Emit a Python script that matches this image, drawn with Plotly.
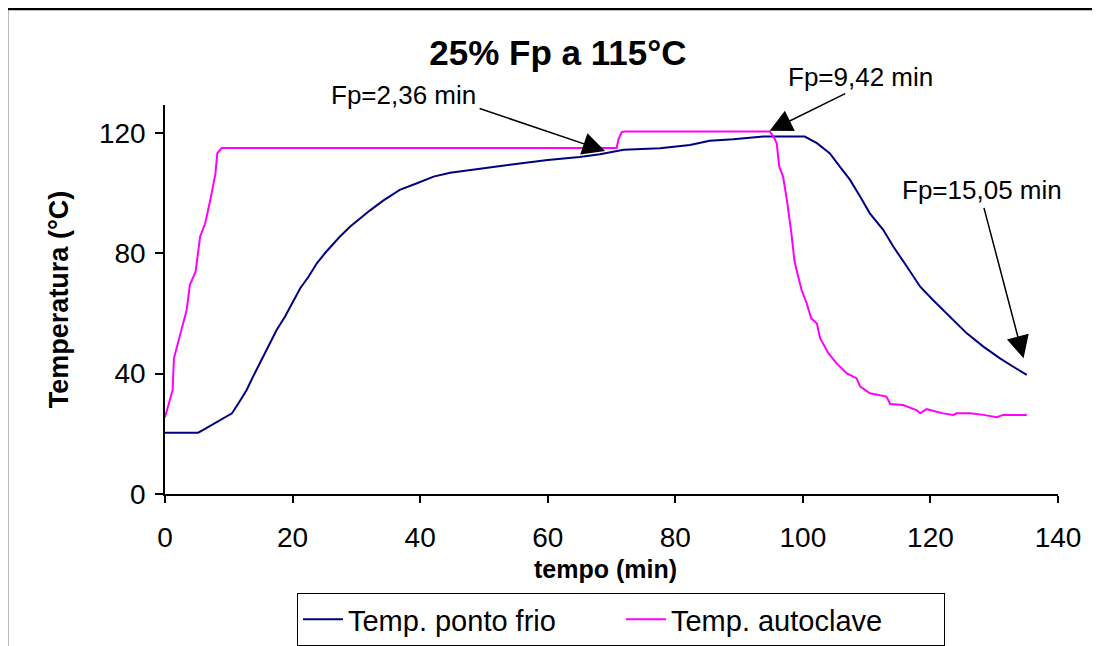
import plotly.graph_objects as go

# tempo (min) e temperatura (°C)
t_frio = [0, 5.2, 6.0, 7.3, 8.9, 10.5, 11.5, 12.8, 13.8, 14.9, 16.2, 17.5, 18.8, 20.1, 21.2,
          22.5, 23.8, 25.3, 27.4, 29.0, 30.6, 32.1, 34.2, 36.8, 39.5, 42.1, 44.7, 50, 55, 60,
          65, 68.2, 71.9, 77.6, 82.3, 85.4, 89.1, 93.8, 100.3, 102.2, 104.2, 105.8, 107.4, 109.0, 110.5,
          112.6, 114.2, 116.3, 118.4, 120.4, 123.1, 125.7, 128.3, 130.9, 133.0, 135.1]
temp_frio = [20.4, 20.4, 21.3, 22.9, 24.6, 26.8, 30.1, 34.6, 39.0, 43.5, 49.0, 54.5, 58.9, 63.9, 68.4,
             72.2, 76.7, 80.6, 85.5, 88.8, 91.6, 94.2, 97.5, 101.1, 103.3, 105.5, 106.8, 108.4, 109.7, 111.0,
             112.0, 112.9, 114.4, 114.9, 116.0, 117.4, 117.9, 118.8, 118.8, 116.6, 113.3, 108.8, 104.4, 98.8, 93.3,
             87.8, 82.2, 75.6, 68.9, 64.5, 58.9, 53.4, 49.0, 45.1, 42.3, 39.6]

t_auto = [0, 1.2, 1.4, 2.6, 3.4, 3.9, 4.8, 5.5, 6.3, 7.1, 7.9, 8.2, 8.9, 70.8, 71.1,
          71.6, 72.1, 94.8, 95.4, 95.9, 96.3, 96.9, 97.5, 98.2, 98.7, 99.8, 100.6, 101.3, 102.2, 102.7,
          104.0, 105.3, 106.9, 108.4, 109.0, 110.5, 113.1, 113.7, 115.7, 117.8, 118.4, 119.4, 122.0, 123.6, 124.1,
          126.2, 128.3, 130.4, 131.4, 135.1]
temp_auto = [25.5, 34.6, 45.1, 54.5, 61.2, 69.5, 73.9, 85.5, 90.0, 97.7, 106.4, 113.3, 115.0, 115.0, 118.0,
             120.3, 120.5, 120.5, 118.8, 116.6, 108.8, 105.5, 97.7, 86.7, 77.2, 67.8, 63.4, 58.4, 56.7, 51.8,
             46.8, 43.4, 40.1, 38.5, 35.7, 33.5, 32.4, 29.9, 29.6, 27.9, 26.8, 28.2, 26.8, 26.3, 26.8,
             26.8, 26.3, 25.5, 26.3, 26.3]

# pontos indicados pelas setas
fp_labels = ['Fp=2,36 min', 'Fp=9,42 min', 'Fp=15,05 min']
fp_t = [69.0, 94.8, 134.6]
fp_temp = [114.0, 120.7, 45.1]

x_ticks = [0, 20, 40, 60, 80, 100, 120, 140]
y_ticks = [0, 40, 80, 120]

FONT = 'Liberation Sans, Arial, sans-serif'

fig = go.Figure()
fig.add_trace(go.Scatter(x=t_frio, y=temp_frio, name='Temp. ponto frio', mode='lines',
                         line=dict(color='#000080', width=2)))
fig.add_trace(go.Scatter(x=t_auto, y=temp_auto, name='Temp. autoclave', mode='lines',
                         line=dict(color='#FF00FF', width=2)))

# setas (sem texto) + textos separados
arrow_offsets = [(-127, -43), (77, -38), (-40, -152)]
text_pos = [(0.2676, 1.0257), (0.7783, 1.072), (0.9149, 0.7815)]
for lab, tx, ty, (ax, ay), (px, py) in zip(fp_labels, fp_t, fp_temp, arrow_offsets, text_pos):
    fig.add_annotation(x=tx, y=ty, xref='x', yref='y', text='', showarrow=True,
                       ax=ax, ay=ay, arrowhead=2, arrowsize=3, arrowwidth=1.5,
                       arrowcolor='black', standoff=0)
    fig.add_annotation(x=px, y=py, xref='paper', yref='paper', text=lab, showarrow=False,
                       font=dict(size=26, color='black', family=FONT),
                       xanchor='center', yanchor='middle')

# titulo do eixo x (logo abaixo dos rotulos, como no original)
fig.add_annotation(x=0.4938, y=-0.192, xref='paper', yref='paper', text='<b>tempo (min)</b>',
                   showarrow=False, font=dict(size=25, color='black', family=FONT),
                   xanchor='center', yanchor='middle')

# moldura externa
fig.add_shape(type='line', xref='paper', yref='paper', x0=-0.1769, x1=-0.1769, y0=-0.40, y1=1.2468,
              line=dict(color='black', width=2.5))
fig.add_shape(type='line', xref='paper', yref='paper', x0=-0.1769, x1=1.06, y0=1.2468, y1=1.2468,
              line=dict(color='black', width=2.5))

# a pagina tem 8px de margem no body -> figura 8px menor
fig.update_layout(
    width=1092, height=638,
    margin=dict(l=157, r=42, t=97, b=152),
    paper_bgcolor='white', plot_bgcolor='white',
    font=dict(family=FONT, color='black'),
    title=dict(text='<b>25% Fp a 115°C</b>', x=0.44, xref='paper', y=1 - 45 / 638,
               xanchor='center', yanchor='middle', font=dict(size=35, family=FONT, color='black')),
    showlegend=True,
    legend=dict(orientation='h', x=0.5106, xanchor='center', xref='paper',
                y=1 - 585 / 638, yanchor='top', yref='container',
                bordercolor='black', borderwidth=1, bgcolor='white',
                font=dict(size=29, family=FONT, color='black'), itemwidth=40,
                entrywidth=268, tracegroupgap=0),
)
fig.update_xaxes(range=[0, 140], tickvals=x_ticks, showgrid=False, zeroline=False,
                 showline=True, linecolor='black', linewidth=1.5,
                 ticks='outside', ticklen=7, tickwidth=1.5, tickcolor='black',
                 tickfont=dict(size=28, family=FONT), ticklabelstandoff=11)
fig.update_yaxes(range=[0, 129.3], tickvals=y_ticks, showgrid=False, zeroline=False,
                 showline=True, linecolor='black', linewidth=1.5,
                 ticks='outside', ticklen=8, tickwidth=1.5, tickcolor='black',
                 tickfont=dict(size=28, family=FONT), ticklabelstandoff=4,
                 title=dict(text='<b>Temperatura (°C)</b>', font=dict(size=27, family=FONT), standoff=22))

fig.write_html('out.html')
